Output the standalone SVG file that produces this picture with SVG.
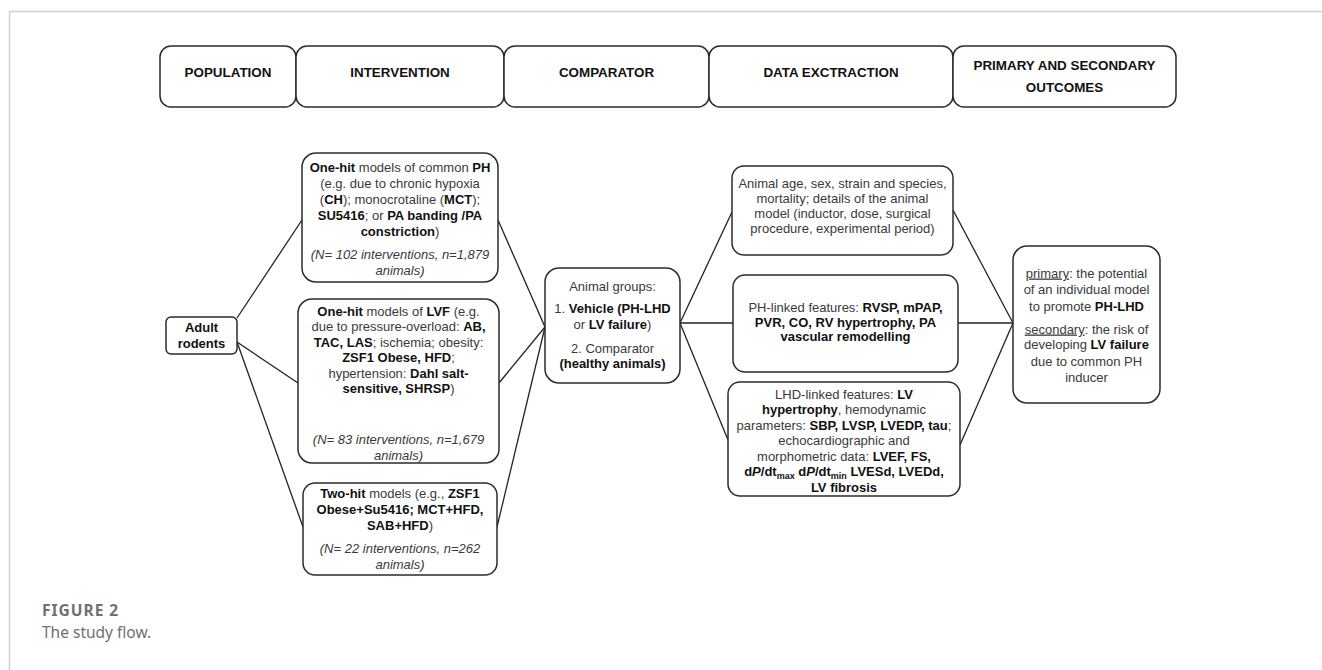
<svg xmlns="http://www.w3.org/2000/svg" width="1322" height="670" viewBox="0 0 1322 670">
<style>
.frame{stroke:#cfcfcf;stroke-width:1.5;fill:none}
.box{fill:#fff;stroke:#2b2b2b;stroke-width:1.5}
.hd{font-family:"Liberation Sans",Arial,sans-serif;font-size:13.4px;font-weight:bold;fill:#111;text-anchor:middle}
.t{font-family:"Liberation Sans",Arial,sans-serif;font-size:13px;fill:#3a3a3a;text-anchor:middle}
.b{font-weight:bold;fill:#111}
.i{font-style:italic}
.u{text-decoration:underline}
.conn line{stroke:#222;stroke-width:1.3}
.cap{font-family:"Noto Sans","Open Sans",sans-serif;font-size:15.5px;fill:#707070}
</style>
<rect width="1322" height="670" fill="#fff"/>
<line class="frame" x1="9.5" y1="11.5" x2="1322" y2="11.5"/>
<line class="frame" x1="9.5" y1="11.5" x2="9.5" y2="670"/>

<g id="header">
  <g id="h-population"><rect class="box" x="160" y="46" width="136" height="61" rx="11"/><text class="hd" x="228" y="77">POPULATION</text></g>
  <g id="h-intervention"><rect class="box" x="296" y="46" width="208" height="61" rx="11"/><text class="hd" x="400" y="77">INTERVENTION</text></g>
  <g id="h-comparator"><rect class="box" x="504" y="46" width="205" height="61" rx="11"/><text class="hd" x="606.5" y="77">COMPARATOR</text></g>
  <g id="h-data"><rect class="box" x="709" y="46" width="244" height="61" rx="11"/><text class="hd" x="831" y="77">DATA EXCTRACTION</text></g>
  <g id="h-outcomes"><rect class="box" x="953" y="46" width="223" height="61" rx="11"/><text class="hd" x="1064.5" y="70">PRIMARY AND SECONDARY</text><text class="hd" x="1064.5" y="92">OUTCOMES</text></g>
</g>

<g class="conn" id="connectors">
  <line x1="237" y1="318" x2="302" y2="220"/>
  <line x1="237" y1="342" x2="298" y2="383"/>
  <line x1="237" y1="342" x2="303" y2="527"/>
  <line x1="498" y1="220" x2="545" y2="327"/>
  <line x1="499" y1="383" x2="545" y2="327"/>
  <line x1="497" y1="527" x2="545" y2="327"/>
  <line x1="680" y1="323" x2="732" y2="212"/>
  <line x1="680" y1="323" x2="733" y2="323"/>
  <line x1="680" y1="323" x2="728" y2="440"/>
  <line x1="953" y1="210" x2="1013" y2="323"/>
  <line x1="958" y1="323" x2="1013" y2="323"/>
  <line x1="960" y1="445" x2="1013" y2="323"/>
</g>

<g id="adult-rodents">
  <rect class="box" x="166" y="317" width="71" height="37" rx="5"/>
  <text class="t b" x="201.5" y="331.5">Adult</text>
  <text class="t b" x="201.5" y="347.5">rodents</text>
</g>

<g id="one-hit-ph">
  <rect class="box" x="302" y="153" width="196" height="129" rx="14"/>
  <text class="t" x="400" y="171.5"><tspan class="b">One-hit</tspan> models of common <tspan class="b">PH</tspan></text>
  <text class="t" x="400" y="187.5">(e.g. due to chronic hypoxia</text>
  <text class="t" x="400" y="203.5">(<tspan class="b">CH</tspan>); monocrotaline (<tspan class="b">MCT</tspan>);</text>
  <text class="t" x="400" y="219.5"><tspan class="b">SU5416</tspan>; or <tspan class="b">PA banding /PA</tspan></text>
  <text class="t" x="400" y="235.5"><tspan class="b">constriction</tspan>)</text>
  <text class="t i" x="400" y="258.5">(N= 102 interventions, n=1,879</text>
  <text class="t i" x="400" y="274.5">animals)</text>
</g>

<g id="one-hit-lvf">
  <rect class="box" x="298" y="299" width="201" height="164" rx="14"/>
  <text class="t" x="398.5" y="315.5"><tspan class="b">One-hit</tspan> models of <tspan class="b">LVF</tspan> (e.g.</text>
  <text class="t" x="398.5" y="331">due to pressure-overload: <tspan class="b">AB,</tspan></text>
  <text class="t" x="398.5" y="346.5"><tspan class="b">TAC, LAS</tspan>; ischemia; obesity:</text>
  <text class="t" x="398.5" y="362"><tspan class="b">ZSF1 Obese, HFD</tspan>;</text>
  <text class="t" x="398.5" y="377.5">hypertension: <tspan class="b">Dahl salt-</tspan></text>
  <text class="t" x="398.5" y="393"><tspan class="b">sensitive, SHRSP</tspan>)</text>
  <text class="t i" x="398.5" y="443.5">(N= 83 interventions, n=1,679</text>
  <text class="t i" x="398.5" y="459.5">animals)</text>
</g>

<g id="two-hit">
  <rect class="box" x="303" y="483" width="194" height="92" rx="12"/>
  <text class="t" x="400" y="497.5"><tspan class="b">Two-hit</tspan> models (e.g., <tspan class="b">ZSF1</tspan></text>
  <text class="t b" x="400" y="513.5">Obese+Su5416; MCT+HFD,</text>
  <text class="t" x="400" y="530"><tspan class="b">SAB+HFD</tspan>)</text>
  <text class="t i" x="400" y="552.5">(N= 22 interventions, n=262</text>
  <text class="t i" x="400" y="568.5">animals)</text>
</g>

<g id="animal-groups">
  <rect class="box" x="545" y="268" width="135" height="115" rx="14"/>
  <text class="t" x="612.5" y="290.5" font-size="13.5">Animal groups:</text>
  <text class="t" x="612.5" y="312.5" font-size="13.5">1. <tspan class="b">Vehicle (PH-LHD</tspan></text>
  <text class="t" x="612.5" y="328.5" font-size="13.5">or <tspan class="b">LV failure</tspan>)</text>
  <text class="t" x="612.5" y="352.5" font-size="13.5">2. Comparator</text>
  <text class="t b" x="612.5" y="367.5" font-size="13.5">(healthy animals)</text>
</g>

<g id="animal-details">
  <rect class="box" x="732" y="166" width="221" height="89" rx="12"/>
  <text class="t" x="842.5" y="187.5">Animal age, sex, strain and species,</text>
  <text class="t" x="842.5" y="202.5">mortality; details of the animal</text>
  <text class="t" x="842.5" y="217.5">model (inductor, dose, surgical</text>
  <text class="t" x="842.5" y="233">procedure, experimental period)</text>
</g>

<g id="ph-features">
  <rect class="box" x="733" y="275" width="225" height="97" rx="12"/>
  <text class="t" x="845.5" y="312">PH-linked features: <tspan class="b">RVSP, mPAP,</tspan></text>
  <text class="t b" x="845.5" y="326.5">PVR, CO, RV hypertrophy, PA</text>
  <text class="t b" x="845.5" y="341">vascular remodelling</text>
</g>

<g id="lhd-features">
  <rect class="box" x="728" y="382" width="232" height="114" rx="12"/>
  <text class="t" x="844" y="398.5">LHD-linked features: <tspan class="b">LV</tspan></text>
  <text class="t" x="844" y="414"><tspan class="b">hypertrophy</tspan>, hemodynamic</text>
  <text class="t" x="844" y="429.5">parameters: <tspan class="b">SBP, LVSP, LVEDP, tau</tspan>;</text>
  <text class="t" x="844" y="445">echocardiographic and</text>
  <text class="t" x="844" y="460.5">morphometric data: <tspan class="b">LVEF, FS,</tspan></text>
  <text class="t b" x="844" y="476">d<tspan class="i">P</tspan>/dt<tspan font-size="9" dy="3">max</tspan><tspan dy="-3"> d</tspan><tspan class="i">P</tspan>/dt<tspan font-size="9" dy="3">min</tspan><tspan dy="-3"> LVESd, LVEDd,</tspan></text>
  <text class="t b" x="844" y="491.5">LV fibrosis</text>
</g>

<g id="outcomes">
  <rect class="box" x="1013" y="246" width="147" height="157" rx="14"/>
  <text class="t" x="1086.5" y="277.5"><tspan class="u">primary</tspan>: the potential</text>
  <text class="t" x="1086.5" y="294">of an individual model</text>
  <text class="t" x="1086.5" y="310.5">to promote <tspan class="b">PH-LHD</tspan></text>
  <text class="t" x="1086.5" y="333.5"><tspan class="u">secondary</tspan>: the risk of</text>
  <text class="t" x="1086.5" y="349">developing <tspan class="b">LV failure</tspan></text>
  <text class="t" x="1086.5" y="365.5">due to common PH</text>
  <text class="t" x="1086.5" y="381.5">inducer</text>
</g>

<g id="caption">
  <text class="cap" x="42" y="616" font-weight="bold" letter-spacing="1">FIGURE 2</text>
  <text class="cap" x="42" y="638">The study flow.</text>
</g>
</svg>
